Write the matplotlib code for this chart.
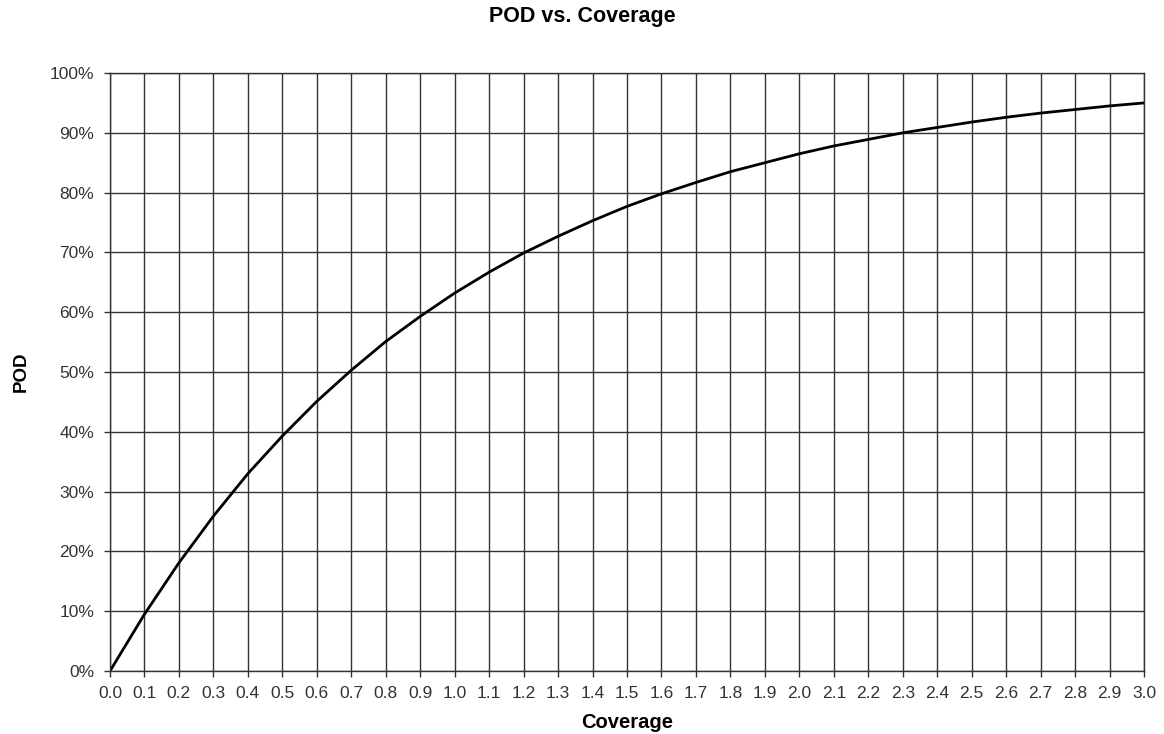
import numpy as np
import matplotlib
matplotlib.use('Agg')
import matplotlib.pyplot as plt
from matplotlib.ticker import PercentFormatter

plt.rcParams['font.family'] = ['Liberation Sans', 'DejaVu Sans']

# Coverage values and POD
coverage = [0.0, 0.1, 0.2, 0.3, 0.4, 0.5, 0.6, 0.7, 0.8, 0.9, 1.0,
            1.1, 1.2, 1.3, 1.4, 1.5, 1.6, 1.7, 1.8, 1.9, 2.0,
            2.1, 2.2, 2.3, 2.4, 2.5, 2.6, 2.7, 2.8, 2.9, 3.0]
pod = [0.0, 0.095, 0.181, 0.259, 0.330, 0.393, 0.451, 0.503, 0.551, 0.593, 0.632,
       0.667, 0.699, 0.727, 0.753, 0.777, 0.798, 0.817, 0.835, 0.850, 0.865,
       0.878, 0.889, 0.900, 0.909, 0.918, 0.926, 0.933, 0.939, 0.945, 0.950]
x_ticks = [round(0.1 * i, 1) for i in range(31)]
y_ticks = [0.0, 0.1, 0.2, 0.3, 0.4, 0.5, 0.6, 0.7, 0.8, 0.9, 1.0]

fig = plt.figure(figsize=(11.64, 7.34), dpi=100)
ax = fig.add_axes([0.0945, 0.0858, 0.8883, 0.8147])

ax.plot(coverage, pod, color='black', linewidth=2.0)

ax.set_xlim(0, 3.0)
ax.set_ylim(0, 1.0)
ax.set_xticks(x_ticks)
ax.set_xticklabels([f'{v:.1f}' for v in x_ticks])
ax.set_yticks(y_ticks)
ax.yaxis.set_major_formatter(PercentFormatter(1.0, decimals=0))
ax.tick_params(axis='both', labelsize=12.5, length=4.5, width=1,
               color='#333333', labelcolor='#333333')
ax.tick_params(axis='x', pad=6)
ax.tick_params(axis='y', pad=7)
ax.grid(True, color='#333333', linewidth=1.0)
for s in ax.spines.values():
    s.set_color('#333333')
    s.set_linewidth(1.0)

ax.set_xlabel('Coverage', fontsize=14.5, fontweight='bold', labelpad=9)
ax.set_ylabel('POD', fontsize=13.5, fontweight='bold', labelpad=14)
fig.text(0.5, 0.977, 'POD vs. Coverage', ha='center', va='center',
         fontsize=15.5, fontweight='bold')

fig.savefig('out.png', dpi=100)
